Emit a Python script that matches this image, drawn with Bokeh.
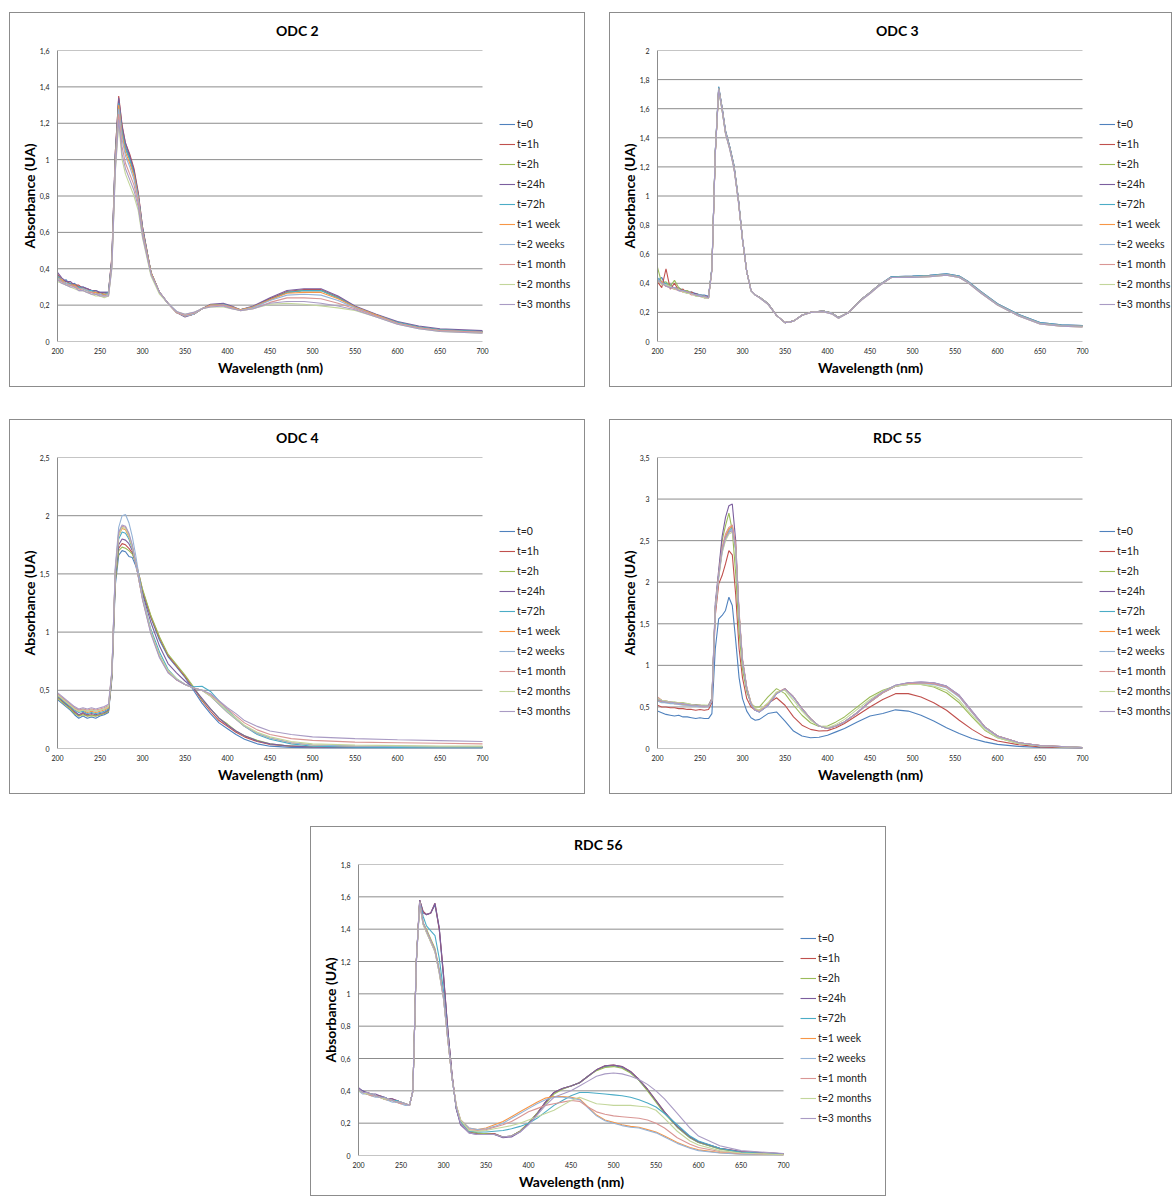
from bokeh.plotting import figure
from bokeh.layouts import column, row
from bokeh.models import FixedTicker, Legend, LegendItem, Spacer, Title
from bokeh.embed import file_html
from bokeh.resources import INLINE

SERIES_LABELS = ["t=0", "t=1h", "t=2h", "t=24h", "t=72h", "t=1 week", "t=2 weeks", "t=1 month", "t=2 months", "t=3 months"]
SERIES_COLORS = ["#4F81BD", "#C0504D", "#9BBB59", "#7B5E9E", "#4BACC6", "#F79646", "#95B3D7", "#D99694", "#C3D69B", "#A99BC4"]
X_TICKS = [200, 250, 300, 350, 400, 450, 500, 550, 600, 650, 700]
X_LABEL = "Wavelength (nm)"
Y_LABEL = "Absorbance (UA)"

# ---------------- ODC 2 ----------------
ODC2_WL = [200, 205, 210, 215, 220, 225, 230, 235, 240, 245, 250, 255, 260, 264, 268, 272, 276, 280, 285, 290, 295, 300,
           310, 320, 330, 340, 350, 360, 370, 380, 395, 405, 415, 430, 450, 470, 490, 510, 530, 550, 575, 600, 625, 650, 700]
ODC2_YTICKS = [0, 0.2, 0.4, 0.6, 0.8, 1, 1.2, 1.4, 1.6]
ODC2_YLABELS = ["0", "0,2", "0,4", "0,6", "0,8", "1", "1,2", "1,4", "1,6"]
odc2_t0 = [0.36, 0.33, 0.34, 0.31, 0.32, 0.30, 0.30, 0.29, 0.28, 0.28, 0.27, 0.27, 0.27, 0.45, 1.02, 1.33, 1.16, 1.07, 1.01, 0.93, 0.80, 0.62,
           0.38, 0.27, 0.21, 0.165, 0.14, 0.15, 0.18, 0.20, 0.205, 0.19, 0.175, 0.19, 0.235, 0.27, 0.28, 0.28, 0.24, 0.19, 0.145, 0.105, 0.08, 0.065, 0.055]
odc2_t1h = [0.37, 0.34, 0.33, 0.32, 0.31, 0.31, 0.29, 0.29, 0.28, 0.27, 0.27, 0.26, 0.27, 0.47, 1.04, 1.35, 1.19, 1.09, 1.03, 0.95, 0.82, 0.63,
            0.38, 0.27, 0.21, 0.16, 0.14, 0.15, 0.18, 0.20, 0.205, 0.19, 0.175, 0.19, 0.235, 0.275, 0.285, 0.285, 0.245, 0.19, 0.145, 0.105, 0.08, 0.065, 0.055]
odc2_t2h = [0.35, 0.33, 0.32, 0.31, 0.31, 0.30, 0.29, 0.28, 0.27, 0.27, 0.26, 0.26, 0.26, 0.44, 1.00, 1.32, 1.15, 1.06, 1.00, 0.92, 0.79, 0.61,
            0.38, 0.27, 0.21, 0.16, 0.14, 0.15, 0.18, 0.20, 0.205, 0.19, 0.175, 0.19, 0.23, 0.27, 0.28, 0.28, 0.24, 0.19, 0.145, 0.105, 0.08, 0.065, 0.055]
odc2_t24h = [0.38, 0.35, 0.33, 0.33, 0.31, 0.30, 0.30, 0.29, 0.28, 0.28, 0.27, 0.27, 0.27, 0.46, 1.04, 1.34, 1.18, 1.09, 1.02, 0.94, 0.81, 0.63,
             0.38, 0.27, 0.21, 0.16, 0.135, 0.15, 0.18, 0.205, 0.21, 0.195, 0.175, 0.195, 0.24, 0.28, 0.29, 0.29, 0.25, 0.195, 0.15, 0.11, 0.085, 0.07, 0.06]
odc2_t72h = [0.36, 0.34, 0.32, 0.32, 0.30, 0.30, 0.29, 0.28, 0.28, 0.27, 0.26, 0.26, 0.27, 0.45, 1.02, 1.31, 1.15, 1.06, 1.00, 0.92, 0.80, 0.62,
             0.38, 0.27, 0.21, 0.16, 0.14, 0.15, 0.18, 0.20, 0.205, 0.19, 0.175, 0.19, 0.23, 0.27, 0.28, 0.28, 0.24, 0.19, 0.145, 0.105, 0.08, 0.065, 0.055]
odc2_t1w = [0.35, 0.34, 0.32, 0.31, 0.31, 0.29, 0.29, 0.28, 0.27, 0.27, 0.26, 0.26, 0.26, 0.44, 1.00, 1.30, 1.13, 1.04, 0.98, 0.91, 0.79, 0.61,
            0.38, 0.27, 0.21, 0.16, 0.14, 0.15, 0.18, 0.20, 0.20, 0.19, 0.175, 0.19, 0.23, 0.265, 0.27, 0.27, 0.235, 0.19, 0.145, 0.10, 0.075, 0.06, 0.05]
odc2_t2w = [0.35, 0.33, 0.32, 0.31, 0.30, 0.29, 0.29, 0.28, 0.27, 0.26, 0.26, 0.25, 0.26, 0.43, 0.98, 1.28, 1.11, 1.02, 0.96, 0.89, 0.78, 0.60,
            0.37, 0.27, 0.21, 0.16, 0.14, 0.15, 0.18, 0.195, 0.20, 0.185, 0.17, 0.185, 0.225, 0.255, 0.26, 0.255, 0.225, 0.185, 0.14, 0.10, 0.075, 0.06, 0.05]
odc2_t1m = [0.34, 0.33, 0.31, 0.31, 0.30, 0.29, 0.28, 0.27, 0.27, 0.26, 0.25, 0.25, 0.25, 0.42, 0.96, 1.25, 1.07, 0.98, 0.92, 0.86, 0.76, 0.59,
            0.37, 0.27, 0.21, 0.16, 0.145, 0.155, 0.18, 0.195, 0.20, 0.185, 0.17, 0.18, 0.215, 0.24, 0.24, 0.235, 0.21, 0.18, 0.14, 0.10, 0.075, 0.06, 0.05]
odc2_t2m = [0.33, 0.32, 0.31, 0.30, 0.29, 0.28, 0.28, 0.27, 0.26, 0.25, 0.25, 0.24, 0.25, 0.40, 0.93, 1.20, 1.00, 0.92, 0.86, 0.80, 0.72, 0.57,
            0.36, 0.26, 0.21, 0.165, 0.15, 0.16, 0.18, 0.19, 0.19, 0.18, 0.17, 0.18, 0.205, 0.21, 0.205, 0.195, 0.185, 0.17, 0.135, 0.095, 0.07, 0.055, 0.045]
odc2_t3m = [0.34, 0.32, 0.31, 0.30, 0.30, 0.28, 0.28, 0.27, 0.26, 0.26, 0.25, 0.25, 0.25, 0.41, 0.94, 1.22, 1.03, 0.95, 0.89, 0.83, 0.74, 0.58,
            0.37, 0.27, 0.21, 0.165, 0.15, 0.16, 0.18, 0.19, 0.195, 0.18, 0.17, 0.18, 0.21, 0.22, 0.22, 0.21, 0.195, 0.175, 0.135, 0.095, 0.07, 0.055, 0.045]

# ---------------- ODC 3 ----------------
ODC3_WL = [200, 205, 210, 215, 220, 225, 230, 235, 240, 245, 250, 255, 260, 264, 268, 272, 276, 280, 285, 290, 295, 300, 305, 310, 315,
           320, 330, 340, 350, 360, 370, 380, 395, 405, 413, 425, 440, 450, 460, 475, 500, 520, 540, 555, 565, 580, 600, 625, 650, 675, 700]
ODC3_YTICKS = [0, 0.2, 0.4, 0.6, 0.8, 1, 1.2, 1.4, 1.6, 1.8, 2]
ODC3_YLABELS = ["0", "0,2", "0,4", "0,6", "0,8", "1", "1,2", "1,4", "1,6", "1,8", "2"]
odc3_t0 = [0.42, 0.44, 0.38, 0.39, 0.36, 0.37, 0.35, 0.34, 0.34, 0.33, 0.32, 0.32, 0.31, 0.50, 1.30, 1.74, 1.60, 1.44, 1.33, 1.20, 0.98, 0.70, 0.48, 0.35, 0.32,
           0.305, 0.26, 0.18, 0.13, 0.14, 0.18, 0.20, 0.21, 0.195, 0.165, 0.20, 0.29, 0.335, 0.385, 0.44, 0.445, 0.45, 0.46, 0.445, 0.41, 0.34, 0.255, 0.18, 0.125, 0.11, 0.105]
odc3_t1h = [0.41, 0.37, 0.50, 0.36, 0.40, 0.35, 0.36, 0.33, 0.34, 0.32, 0.32, 0.31, 0.30, 0.50, 1.29, 1.74, 1.60, 1.44, 1.33, 1.20, 0.98, 0.70, 0.48, 0.35, 0.32,
            0.305, 0.26, 0.18, 0.13, 0.14, 0.18, 0.20, 0.21, 0.195, 0.165, 0.20, 0.29, 0.335, 0.385, 0.44, 0.445, 0.45, 0.46, 0.445, 0.41, 0.34, 0.255, 0.18, 0.125, 0.11, 0.105]
odc3_t2h = [0.51, 0.40, 0.41, 0.38, 0.42, 0.37, 0.35, 0.35, 0.33, 0.33, 0.32, 0.31, 0.30, 0.50, 1.30, 1.73, 1.59, 1.43, 1.33, 1.20, 0.98, 0.70, 0.48, 0.35, 0.32,
            0.305, 0.26, 0.18, 0.13, 0.14, 0.18, 0.20, 0.21, 0.195, 0.165, 0.20, 0.29, 0.335, 0.385, 0.44, 0.445, 0.45, 0.46, 0.445, 0.41, 0.34, 0.255, 0.18, 0.125, 0.11, 0.105]
odc3_t24h = [0.43, 0.41, 0.39, 0.38, 0.37, 0.36, 0.35, 0.34, 0.33, 0.33, 0.32, 0.31, 0.31, 0.50, 1.31, 1.75, 1.61, 1.45, 1.34, 1.21, 0.99, 0.71, 0.48, 0.35, 0.32,
             0.305, 0.26, 0.18, 0.13, 0.14, 0.18, 0.20, 0.21, 0.195, 0.165, 0.20, 0.29, 0.335, 0.385, 0.445, 0.45, 0.455, 0.465, 0.45, 0.415, 0.345, 0.26, 0.185, 0.13, 0.115, 0.11]
odc3_t72h = [0.44, 0.40, 0.40, 0.37, 0.37, 0.35, 0.35, 0.34, 0.33, 0.32, 0.32, 0.31, 0.30, 0.51, 1.31, 1.75, 1.61, 1.45, 1.34, 1.21, 0.99, 0.71, 0.48, 0.35, 0.32,
             0.305, 0.26, 0.18, 0.13, 0.14, 0.18, 0.20, 0.21, 0.195, 0.165, 0.20, 0.29, 0.335, 0.385, 0.445, 0.45, 0.455, 0.465, 0.45, 0.415, 0.345, 0.26, 0.185, 0.13, 0.115, 0.11]
odc3_t1w = [0.42, 0.41, 0.38, 0.38, 0.36, 0.36, 0.34, 0.34, 0.33, 0.32, 0.31, 0.31, 0.30, 0.50, 1.30, 1.74, 1.60, 1.44, 1.33, 1.20, 0.98, 0.70, 0.48, 0.35, 0.32,
            0.305, 0.26, 0.18, 0.13, 0.14, 0.18, 0.20, 0.21, 0.195, 0.165, 0.20, 0.29, 0.335, 0.385, 0.44, 0.445, 0.45, 0.46, 0.445, 0.41, 0.34, 0.255, 0.18, 0.125, 0.11, 0.105]
odc3_t2w = [0.43, 0.40, 0.39, 0.37, 0.37, 0.35, 0.35, 0.33, 0.33, 0.32, 0.32, 0.30, 0.30, 0.50, 1.30, 1.74, 1.60, 1.44, 1.33, 1.20, 0.98, 0.70, 0.48, 0.35, 0.32,
            0.305, 0.26, 0.18, 0.13, 0.14, 0.18, 0.20, 0.21, 0.195, 0.165, 0.20, 0.29, 0.335, 0.385, 0.44, 0.445, 0.45, 0.46, 0.445, 0.41, 0.34, 0.255, 0.18, 0.125, 0.11, 0.105]
odc3_t1m = [0.41, 0.40, 0.38, 0.37, 0.36, 0.35, 0.34, 0.34, 0.32, 0.32, 0.31, 0.30, 0.30, 0.49, 1.29, 1.73, 1.59, 1.43, 1.32, 1.19, 0.97, 0.70, 0.48, 0.35, 0.32,
            0.30, 0.255, 0.18, 0.13, 0.14, 0.18, 0.20, 0.205, 0.19, 0.16, 0.20, 0.285, 0.33, 0.38, 0.44, 0.44, 0.445, 0.455, 0.44, 0.405, 0.335, 0.25, 0.175, 0.12, 0.105, 0.10]
odc3_t2m = [0.42, 0.39, 0.39, 0.38, 0.36, 0.36, 0.34, 0.33, 0.33, 0.31, 0.31, 0.30, 0.30, 0.49, 1.29, 1.73, 1.59, 1.43, 1.32, 1.19, 0.97, 0.70, 0.48, 0.35, 0.32,
            0.30, 0.255, 0.18, 0.13, 0.14, 0.18, 0.20, 0.205, 0.19, 0.16, 0.20, 0.285, 0.33, 0.38, 0.44, 0.44, 0.445, 0.455, 0.44, 0.405, 0.335, 0.25, 0.175, 0.12, 0.105, 0.10]
odc3_t3m = [0.42, 0.40, 0.38, 0.37, 0.37, 0.35, 0.35, 0.34, 0.33, 0.32, 0.31, 0.31, 0.30, 0.49, 1.29, 1.73, 1.59, 1.43, 1.32, 1.19, 0.97, 0.70, 0.48, 0.35, 0.32,
            0.30, 0.255, 0.18, 0.13, 0.14, 0.18, 0.20, 0.205, 0.19, 0.16, 0.20, 0.285, 0.33, 0.38, 0.44, 0.44, 0.445, 0.455, 0.44, 0.405, 0.335, 0.25, 0.175, 0.12, 0.105, 0.10]

# ---------------- ODC 4 ----------------
ODC4_WL = [200, 205, 210, 215, 220, 225, 230, 235, 240, 245, 250, 255, 260, 264, 268, 272, 276, 280, 284, 288, 292, 296, 300,
           310, 320, 330, 340, 350, 360, 370, 380, 390, 400, 410, 420, 435, 450, 475, 500, 550, 600, 650, 700]
ODC4_YTICKS = [0, 0.5, 1, 1.5, 2, 2.5]
ODC4_YLABELS = ["0", "0,5", "1", "1,5", "2", "2,5"]
odc4_t0 = [0.42, 0.39, 0.36, 0.33, 0.29, 0.26, 0.28, 0.26, 0.27, 0.26, 0.28, 0.29, 0.31, 0.60, 1.40, 1.66, 1.70, 1.69, 1.65, 1.64, 1.57, 1.46, 1.34,
           1.12, 0.93, 0.79, 0.70, 0.61, 0.50, 0.39, 0.30, 0.22, 0.17, 0.12, 0.08, 0.04, 0.02, 0.01, 0.005, 0.003, 0.003, 0.003, 0.003]
odc4_t1h = [0.44, 0.41, 0.38, 0.35, 0.31, 0.28, 0.30, 0.28, 0.29, 0.28, 0.29, 0.30, 0.32, 0.62, 1.45, 1.72, 1.76, 1.75, 1.72, 1.68, 1.60, 1.49, 1.36,
            1.13, 0.95, 0.80, 0.71, 0.62, 0.52, 0.41, 0.32, 0.24, 0.19, 0.14, 0.10, 0.06, 0.035, 0.02, 0.015, 0.012, 0.01, 0.01, 0.01]
odc4_t2h = [0.43, 0.40, 0.37, 0.34, 0.30, 0.28, 0.29, 0.28, 0.28, 0.28, 0.29, 0.30, 0.32, 0.62, 1.44, 1.70, 1.73, 1.72, 1.70, 1.67, 1.60, 1.49, 1.37,
            1.14, 0.96, 0.81, 0.72, 0.63, 0.53, 0.42, 0.34, 0.26, 0.21, 0.15, 0.11, 0.07, 0.04, 0.02, 0.015, 0.01, 0.01, 0.01, 0.01]
odc4_t24h = [0.45, 0.42, 0.38, 0.36, 0.32, 0.29, 0.31, 0.29, 0.30, 0.29, 0.30, 0.31, 0.33, 0.63, 1.48, 1.75, 1.80, 1.79, 1.76, 1.70, 1.60, 1.47, 1.33,
             1.08, 0.88, 0.73, 0.65, 0.58, 0.52, 0.43, 0.34, 0.26, 0.20, 0.15, 0.11, 0.065, 0.04, 0.02, 0.012, 0.01, 0.01, 0.01, 0.01]
odc4_t72h = [0.45, 0.42, 0.39, 0.36, 0.33, 0.31, 0.32, 0.30, 0.31, 0.30, 0.31, 0.32, 0.34, 0.64, 1.50, 1.80, 1.86, 1.85, 1.80, 1.72, 1.60, 1.45, 1.30,
             1.02, 0.83, 0.68, 0.60, 0.55, 0.53, 0.535, 0.49, 0.41, 0.33, 0.26, 0.19, 0.12, 0.08, 0.04, 0.02, 0.012, 0.01, 0.01, 0.01]
odc4_t1w = [0.46, 0.43, 0.40, 0.37, 0.34, 0.32, 0.33, 0.31, 0.32, 0.31, 0.32, 0.33, 0.35, 0.65, 1.52, 1.83, 1.89, 1.88, 1.82, 1.73, 1.60, 1.44, 1.29,
            1.00, 0.80, 0.66, 0.59, 0.55, 0.52, 0.50, 0.45, 0.38, 0.31, 0.25, 0.19, 0.13, 0.09, 0.05, 0.03, 0.02, 0.018, 0.016, 0.015]
odc4_t2w = [0.46, 0.44, 0.41, 0.38, 0.35, 0.33, 0.34, 0.32, 0.33, 0.32, 0.33, 0.34, 0.36, 0.66, 1.56, 1.90, 2.00, 2.01, 1.94, 1.82, 1.66, 1.48, 1.30,
            1.00, 0.79, 0.66, 0.59, 0.55, 0.52, 0.50, 0.45, 0.38, 0.31, 0.25, 0.19, 0.13, 0.09, 0.05, 0.03, 0.02, 0.018, 0.016, 0.015]
odc4_t1m = [0.47, 0.44, 0.41, 0.38, 0.35, 0.33, 0.34, 0.33, 0.34, 0.33, 0.34, 0.35, 0.37, 0.66, 1.53, 1.85, 1.91, 1.90, 1.84, 1.74, 1.60, 1.44, 1.28,
            0.99, 0.79, 0.66, 0.59, 0.55, 0.52, 0.50, 0.46, 0.40, 0.34, 0.28, 0.22, 0.16, 0.12, 0.085, 0.07, 0.055, 0.05, 0.045, 0.04]
odc4_t2m = [0.46, 0.43, 0.40, 0.37, 0.34, 0.32, 0.33, 0.32, 0.33, 0.32, 0.33, 0.34, 0.36, 0.65, 1.52, 1.83, 1.90, 1.89, 1.83, 1.73, 1.60, 1.44, 1.29,
            1.00, 0.80, 0.67, 0.60, 0.55, 0.52, 0.50, 0.45, 0.39, 0.32, 0.26, 0.20, 0.14, 0.10, 0.06, 0.04, 0.03, 0.025, 0.02, 0.02]
odc4_t3m = [0.48, 0.45, 0.42, 0.39, 0.36, 0.34, 0.35, 0.34, 0.35, 0.34, 0.35, 0.36, 0.38, 0.67, 1.54, 1.86, 1.92, 1.91, 1.85, 1.75, 1.60, 1.44, 1.28,
            0.98, 0.78, 0.65, 0.59, 0.55, 0.52, 0.50, 0.47, 0.41, 0.35, 0.30, 0.24, 0.19, 0.15, 0.12, 0.10, 0.085, 0.075, 0.068, 0.06]

# ---------------- RDC 55 ----------------
RDC55_WL = [200, 205, 210, 215, 220, 225, 230, 235, 240, 245, 250, 255, 260, 264, 268, 272, 276, 280, 284, 288, 292, 296, 300, 305, 310, 315, 320,
            330, 340, 350, 360, 370, 380, 390, 400, 410, 420, 435, 450, 465, 480, 495, 510, 525, 540, 555, 570, 585, 600, 625, 650, 700]
RDC55_YTICKS = [0, 0.5, 1, 1.5, 2, 2.5, 3, 3.5]
RDC55_YLABELS = ["0", "0,5", "1", "1,5", "2", "2,5", "3", "3,5"]
rdc55_t0 = [0.45, 0.43, 0.41, 0.40, 0.39, 0.40, 0.38, 0.38, 0.37, 0.36, 0.37, 0.36, 0.36, 0.42, 1.20, 1.56, 1.60, 1.66, 1.82, 1.72, 1.30, 0.85, 0.60, 0.45, 0.37, 0.34, 0.35,
            0.42, 0.44, 0.33, 0.21, 0.15, 0.13, 0.135, 0.16, 0.20, 0.24, 0.32, 0.39, 0.42, 0.465, 0.45, 0.40, 0.33, 0.25, 0.18, 0.12, 0.08, 0.05, 0.025, 0.012, 0.005]
rdc55_t1h = [0.52, 0.50, 0.50, 0.49, 0.49, 0.48, 0.48, 0.47, 0.47, 0.46, 0.47, 0.46, 0.47, 0.55, 1.60, 1.98, 2.08, 2.22, 2.38, 2.33, 1.85, 1.20, 0.85, 0.60, 0.50, 0.46, 0.46,
             0.54, 0.61, 0.52, 0.38, 0.28, 0.23, 0.21, 0.215, 0.25, 0.30, 0.40, 0.50, 0.59, 0.66, 0.66, 0.62, 0.55, 0.46, 0.34, 0.23, 0.14, 0.09, 0.045, 0.02, 0.008]
rdc55_t2h = [0.60, 0.58, 0.57, 0.56, 0.56, 0.55, 0.55, 0.54, 0.53, 0.53, 0.52, 0.52, 0.52, 0.60, 1.70, 2.10, 2.50, 2.68, 2.83, 2.62, 2.10, 1.40, 0.95, 0.68, 0.54, 0.50, 0.50,
             0.62, 0.72, 0.66, 0.52, 0.40, 0.31, 0.265, 0.27, 0.32, 0.38, 0.50, 0.62, 0.70, 0.75, 0.77, 0.77, 0.74, 0.67, 0.55, 0.38, 0.22, 0.13, 0.06, 0.03, 0.01]
rdc55_t24h = [0.58, 0.57, 0.56, 0.55, 0.55, 0.54, 0.54, 0.53, 0.53, 0.52, 0.52, 0.51, 0.52, 0.60, 1.75, 2.15, 2.55, 2.78, 2.92, 2.94, 2.50, 1.60, 1.05, 0.72, 0.54, 0.46, 0.44,
              0.52, 0.66, 0.72, 0.62, 0.48, 0.36, 0.27, 0.24, 0.27, 0.32, 0.43, 0.57, 0.68, 0.76, 0.79, 0.80, 0.79, 0.75, 0.64, 0.45, 0.26, 0.15, 0.07, 0.035, 0.012]
rdc55_t72h = [0.57, 0.56, 0.55, 0.55, 0.54, 0.54, 0.53, 0.53, 0.52, 0.52, 0.51, 0.51, 0.51, 0.58, 1.70, 2.10, 2.40, 2.55, 2.62, 2.66, 2.40, 1.60, 1.05, 0.72, 0.54, 0.46, 0.44,
              0.52, 0.66, 0.72, 0.62, 0.48, 0.36, 0.27, 0.24, 0.27, 0.32, 0.43, 0.56, 0.67, 0.75, 0.78, 0.79, 0.78, 0.74, 0.63, 0.44, 0.26, 0.15, 0.07, 0.035, 0.012]
rdc55_t1w = [0.58, 0.56, 0.56, 0.55, 0.54, 0.54, 0.53, 0.52, 0.52, 0.51, 0.51, 0.50, 0.51, 0.58, 1.68, 2.08, 2.38, 2.55, 2.64, 2.68, 2.42, 1.62, 1.06, 0.73, 0.55, 0.47, 0.45,
             0.53, 0.67, 0.72, 0.62, 0.48, 0.36, 0.27, 0.24, 0.27, 0.32, 0.43, 0.56, 0.67, 0.75, 0.78, 0.79, 0.78, 0.74, 0.63, 0.44, 0.26, 0.15, 0.07, 0.035, 0.012]
rdc55_t2w = [0.57, 0.55, 0.55, 0.54, 0.54, 0.53, 0.52, 0.52, 0.51, 0.51, 0.50, 0.50, 0.50, 0.57, 1.66, 2.06, 2.36, 2.52, 2.60, 2.64, 2.40, 1.60, 1.05, 0.72, 0.54, 0.46, 0.44,
             0.52, 0.66, 0.71, 0.61, 0.47, 0.35, 0.27, 0.24, 0.27, 0.32, 0.43, 0.56, 0.67, 0.75, 0.77, 0.78, 0.77, 0.73, 0.62, 0.43, 0.25, 0.14, 0.07, 0.03, 0.01]
rdc55_t1m = [0.62, 0.58, 0.57, 0.56, 0.55, 0.55, 0.54, 0.53, 0.53, 0.52, 0.52, 0.51, 0.51, 0.60, 1.70, 2.10, 2.42, 2.58, 2.66, 2.69, 2.45, 1.65, 1.08, 0.74, 0.55, 0.47, 0.45,
             0.53, 0.67, 0.72, 0.62, 0.48, 0.36, 0.27, 0.24, 0.27, 0.32, 0.43, 0.56, 0.67, 0.75, 0.78, 0.79, 0.78, 0.74, 0.63, 0.44, 0.26, 0.15, 0.07, 0.035, 0.012]
rdc55_t2m = [0.60, 0.58, 0.57, 0.56, 0.55, 0.55, 0.54, 0.54, 0.53, 0.52, 0.52, 0.52, 0.51, 0.58, 1.68, 2.05, 2.35, 2.50, 2.58, 2.60, 2.38, 1.60, 1.05, 0.73, 0.55, 0.48, 0.46,
             0.55, 0.68, 0.70, 0.58, 0.45, 0.34, 0.27, 0.25, 0.29, 0.35, 0.47, 0.59, 0.69, 0.75, 0.77, 0.77, 0.75, 0.70, 0.58, 0.40, 0.23, 0.13, 0.06, 0.03, 0.01]
rdc55_t3m = [0.59, 0.57, 0.56, 0.56, 0.55, 0.54, 0.54, 0.53, 0.52, 0.52, 0.51, 0.51, 0.51, 0.58, 1.69, 2.08, 2.38, 2.53, 2.60, 2.62, 2.40, 1.62, 1.06, 0.73, 0.54, 0.46, 0.44,
             0.52, 0.66, 0.72, 0.62, 0.48, 0.36, 0.27, 0.24, 0.27, 0.32, 0.43, 0.57, 0.68, 0.76, 0.79, 0.80, 0.79, 0.75, 0.64, 0.45, 0.26, 0.15, 0.07, 0.035, 0.012]

# ---------------- RDC 56 ----------------
RDC56_WL = [200, 205, 210, 215, 220, 225, 230, 235, 240, 245, 250, 255, 260, 264, 268, 272, 276, 280, 285, 290, 295, 300, 305, 310, 315, 320,
            330, 340, 350, 360, 370, 380, 390, 400, 410, 420, 430, 440, 450, 460, 470, 480, 490, 500, 510, 520, 530, 540, 550, 560, 575, 590, 600, 625, 650, 700]
RDC56_YTICKS = [0, 0.2, 0.4, 0.6, 0.8, 1, 1.2, 1.4, 1.6, 1.8]
RDC56_YLABELS = ["0", "0,2", "0,4", "0,6", "0,8", "1", "1,2", "1,4", "1,6", "1,8"]
rdc56_t0 = [0.41, 0.40, 0.38, 0.38, 0.37, 0.36, 0.36, 0.35, 0.34, 0.34, 0.33, 0.32, 0.31, 0.40, 1.20, 1.58, 1.51, 1.49, 1.50, 1.55, 1.40, 1.10, 0.78, 0.50, 0.29, 0.20,
            0.145, 0.135, 0.135, 0.135, 0.115, 0.12, 0.15, 0.20, 0.26, 0.33, 0.39, 0.415, 0.43, 0.45, 0.49, 0.53, 0.55, 0.555, 0.545, 0.515, 0.465, 0.405, 0.335, 0.265, 0.175, 0.11, 0.08, 0.04, 0.02, 0.008]
rdc56_t1h = [0.41, 0.39, 0.39, 0.38, 0.37, 0.37, 0.36, 0.35, 0.35, 0.34, 0.33, 0.32, 0.31, 0.40, 1.20, 1.58, 1.51, 1.49, 1.50, 1.56, 1.40, 1.12, 0.78, 0.50, 0.29, 0.20,
             0.145, 0.135, 0.135, 0.135, 0.115, 0.12, 0.15, 0.20, 0.26, 0.33, 0.39, 0.415, 0.43, 0.45, 0.49, 0.53, 0.555, 0.56, 0.55, 0.52, 0.47, 0.41, 0.34, 0.27, 0.18, 0.115, 0.085, 0.045, 0.025, 0.01]
rdc56_t2h = [0.40, 0.39, 0.38, 0.38, 0.37, 0.36, 0.35, 0.35, 0.34, 0.33, 0.33, 0.32, 0.31, 0.40, 1.20, 1.57, 1.44, 1.40, 1.34, 1.28, 1.15, 1.00, 0.74, 0.48, 0.30, 0.21,
             0.15, 0.14, 0.135, 0.13, 0.115, 0.12, 0.15, 0.20, 0.26, 0.32, 0.38, 0.41, 0.43, 0.45, 0.49, 0.525, 0.545, 0.55, 0.54, 0.51, 0.465, 0.40, 0.33, 0.26, 0.175, 0.11, 0.08, 0.04, 0.02, 0.008]
rdc56_t24h = [0.42, 0.40, 0.39, 0.38, 0.38, 0.37, 0.36, 0.35, 0.35, 0.34, 0.33, 0.32, 0.31, 0.40, 1.20, 1.58, 1.50, 1.49, 1.50, 1.56, 1.41, 1.12, 0.78, 0.50, 0.29, 0.19,
              0.14, 0.13, 0.13, 0.13, 0.11, 0.115, 0.145, 0.195, 0.255, 0.33, 0.39, 0.415, 0.43, 0.45, 0.49, 0.53, 0.555, 0.56, 0.55, 0.52, 0.47, 0.41, 0.34, 0.27, 0.18, 0.115, 0.085, 0.045, 0.025, 0.01]
rdc56_t72h = [0.41, 0.39, 0.38, 0.38, 0.37, 0.36, 0.36, 0.35, 0.34, 0.34, 0.33, 0.32, 0.31, 0.40, 1.20, 1.57, 1.48, 1.42, 1.39, 1.36, 1.22, 1.02, 0.74, 0.48, 0.30, 0.21,
              0.15, 0.145, 0.145, 0.15, 0.155, 0.165, 0.18, 0.20, 0.23, 0.27, 0.31, 0.34, 0.37, 0.39, 0.39, 0.385, 0.38, 0.375, 0.37, 0.36, 0.345, 0.325, 0.30, 0.26, 0.19, 0.12, 0.09, 0.045, 0.02, 0.008]
rdc56_t1w = [0.40, 0.39, 0.38, 0.37, 0.37, 0.36, 0.35, 0.34, 0.34, 0.33, 0.32, 0.32, 0.31, 0.40, 1.20, 1.57, 1.44, 1.39, 1.33, 1.27, 1.14, 0.98, 0.72, 0.48, 0.31, 0.22,
             0.17, 0.16, 0.17, 0.19, 0.21, 0.24, 0.27, 0.30, 0.33, 0.355, 0.365, 0.365, 0.36, 0.35, 0.30, 0.25, 0.22, 0.205, 0.19, 0.18, 0.175, 0.16, 0.145, 0.12, 0.08, 0.05, 0.035, 0.018, 0.01, 0.005]
rdc56_t2w = [0.40, 0.38, 0.38, 0.37, 0.36, 0.36, 0.35, 0.34, 0.33, 0.33, 0.32, 0.31, 0.31, 0.40, 1.19, 1.56, 1.43, 1.38, 1.32, 1.26, 1.13, 0.97, 0.72, 0.48, 0.31, 0.22,
             0.17, 0.16, 0.165, 0.18, 0.20, 0.23, 0.26, 0.29, 0.32, 0.345, 0.36, 0.36, 0.355, 0.345, 0.295, 0.245, 0.215, 0.20, 0.185, 0.175, 0.17, 0.155, 0.14, 0.115, 0.075, 0.045, 0.03, 0.015, 0.008, 0.004]
rdc56_t1m = [0.41, 0.39, 0.38, 0.37, 0.37, 0.36, 0.35, 0.35, 0.34, 0.33, 0.32, 0.32, 0.31, 0.40, 1.19, 1.56, 1.43, 1.38, 1.32, 1.26, 1.13, 0.97, 0.72, 0.48, 0.31, 0.22,
             0.16, 0.155, 0.16, 0.175, 0.19, 0.21, 0.24, 0.27, 0.29, 0.31, 0.32, 0.33, 0.34, 0.335, 0.30, 0.27, 0.255, 0.245, 0.24, 0.235, 0.23, 0.22, 0.20, 0.17, 0.11, 0.07, 0.05, 0.025, 0.012, 0.005]
rdc56_t2m = [0.40, 0.39, 0.38, 0.38, 0.37, 0.36, 0.35, 0.35, 0.34, 0.33, 0.33, 0.32, 0.31, 0.40, 1.19, 1.56, 1.43, 1.38, 1.32, 1.26, 1.13, 0.97, 0.72, 0.48, 0.31, 0.22,
             0.155, 0.15, 0.155, 0.165, 0.175, 0.185, 0.20, 0.22, 0.24, 0.26, 0.28, 0.31, 0.34, 0.36, 0.34, 0.32, 0.315, 0.31, 0.31, 0.31, 0.305, 0.30, 0.28, 0.23, 0.15, 0.09, 0.065, 0.03, 0.015, 0.005]
rdc56_t3m = [0.41, 0.39, 0.39, 0.38, 0.37, 0.36, 0.36, 0.35, 0.34, 0.33, 0.33, 0.32, 0.31, 0.40, 1.19, 1.57, 1.44, 1.39, 1.33, 1.27, 1.14, 0.98, 0.73, 0.48, 0.30, 0.20,
             0.14, 0.13, 0.13, 0.13, 0.115, 0.12, 0.145, 0.19, 0.25, 0.31, 0.36, 0.38, 0.40, 0.43, 0.46, 0.49, 0.505, 0.51, 0.505, 0.49, 0.47, 0.44, 0.40, 0.35, 0.26, 0.17, 0.12, 0.06, 0.03, 0.012]

FONT = "Lato"
GRID = "#8c8c8c"
PLOT_W = 425      # width in px of the 200-700 nm data area
LEFT = 48
TOP = 37


def build(title, wl, series, yticks, ylabels, width, height, bottom, title_w):
    frame_w = width - LEFT - 1
    x_end = X_TICKS[0] + frame_w * (X_TICKS[-1] - X_TICKS[0]) / PLOT_W
    p = figure(width=width, height=height, x_range=(X_TICKS[0], x_end), y_range=(0, yticks[-1]),
               output_backend="svg", toolbar_location=None,
               min_border_left=LEFT, min_border_right=1,
               min_border_top=TOP, min_border_bottom=bottom,
               background_fill_alpha=0, border_fill_alpha=0,
               outline_line_color=None,
               styles={"outline": "1px solid #8c8c8c", "outline-offset": "-1px"})
    p.title.text = title
    p.title.align = "left"
    p.title.offset = PLOT_W / 2 + 27 - title_w / 2
    p.title.vertical_align = "top"
    p.title.standoff = 19
    p.title.text_font = FONT
    p.title.text_font_style = "bold"
    p.title.text_font_size = "14px"
    p.title.text_color = "#000000"

    p.xaxis.ticker = FixedTicker(ticks=X_TICKS)
    p.yaxis.ticker = FixedTicker(ticks=yticks)
    p.yaxis.major_label_overrides = dict(zip(yticks, ylabels))
    for ax in (p.xaxis[0], p.yaxis[0]):
        ax.axis_line_color = GRID
        ax.major_tick_out = 0
        ax.major_tick_in = 0
        ax.minor_tick_out = 0
        ax.minor_tick_in = 0
        ax.major_label_text_font = FONT
        ax.major_label_text_font_size = "7px"
        ax.major_label_text_color = "#222222"
        ax.axis_label_text_font = FONT
        ax.axis_label_text_font_style = "bold"
        ax.axis_label_text_font_size = "14px"
        ax.axis_label_text_color = "#000000"
    p.xaxis.axis_line_color = None
    p.xaxis.major_label_standoff = 6
    p.yaxis.axis_label = Y_LABEL
    p.yaxis.major_label_standoff = 8
    p.yaxis.axis_label_standoff = -1

    xlab = Title(text=X_LABEL, align="left", offset=PLOT_W / 2 - 52, vertical_align="top", standoff=4,
                 text_font=FONT, text_font_style="bold", text_font_size="14px", text_color="#000000")
    p.add_layout(xlab, "below")

    p.xgrid.visible = False
    p.ygrid.visible = False
    n = len(yticks)
    p.segment(x0=[X_TICKS[0]] * n, y0=yticks, x1=[X_TICKS[-1]] * n, y1=yticks, line_color=GRID, line_width=1)

    renderers = []
    for i, (ys, c) in enumerate(zip(series, SERIES_COLORS)):
        assert len(ys) == len(wl), (title, i, len(ys), len(wl))
        renderers.append(p.line(wl, ys, line_color=c, line_width=1.1))
    items = [LegendItem(label=l, renderers=[r]) for l, r in zip(SERIES_LABELS, renderers)]
    legend = Legend(items=items, location=(PLOT_W + 17, 27), orientation="vertical",
                    padding=0, margin=0, spacing=0, glyph_width=16, glyph_height=20,
                    label_height=20, label_standoff=2,
                    label_text_font=FONT, label_text_font_size="10.5px", label_text_color="#222222",
                    border_line_color=None, background_fill_alpha=0)
    p.add_layout(legend, "center")
    return p


p1 = build("ODC 2", ODC2_WL, [odc2_t0, odc2_t1h, odc2_t2h, odc2_t24h, odc2_t72h, odc2_t1w, odc2_t2w, odc2_t1m, odc2_t2m, odc2_t3m],
           ODC2_YTICKS, ODC2_YLABELS, 576, 375, 46, 42)
p2 = build("ODC 3", ODC3_WL, [odc3_t0, odc3_t1h, odc3_t2h, odc3_t24h, odc3_t72h, odc3_t1w, odc3_t2w, odc3_t1m, odc3_t2m, odc3_t3m],
           ODC3_YTICKS, ODC3_YLABELS, 563, 375, 46, 42)
p3 = build("ODC 4", ODC4_WL, [odc4_t0, odc4_t1h, odc4_t2h, odc4_t24h, odc4_t72h, odc4_t1w, odc4_t2w, odc4_t1m, odc4_t2m, odc4_t3m],
           ODC4_YTICKS, ODC4_YLABELS, 576, 375, 46, 42)
p4 = build("RDC 55", RDC55_WL, [rdc55_t0, rdc55_t1h, rdc55_t2h, rdc55_t24h, rdc55_t72h, rdc55_t1w, rdc55_t2w, rdc55_t1m, rdc55_t2m, rdc55_t3m],
           RDC55_YTICKS, RDC55_YLABELS, 563, 375, 46, 48)
p5 = build("RDC 56", RDC56_WL, [rdc56_t0, rdc56_t1h, rdc56_t2h, rdc56_t24h, rdc56_t72h, rdc56_t1w, rdc56_t2w, rdc56_t1m, rdc56_t2m, rdc56_t3m],
           RDC56_YTICKS, RDC56_YLABELS, 576, 370, 41, 48)

layout = column(
    row(p1, p2, spacing=24),
    row(p3, p4, spacing=24),
    row(Spacer(width=301, height=370), p5),
    spacing=32, margin=(12, 0, 0, 9))

open("out.html", "w").write(file_html(layout, INLINE))
